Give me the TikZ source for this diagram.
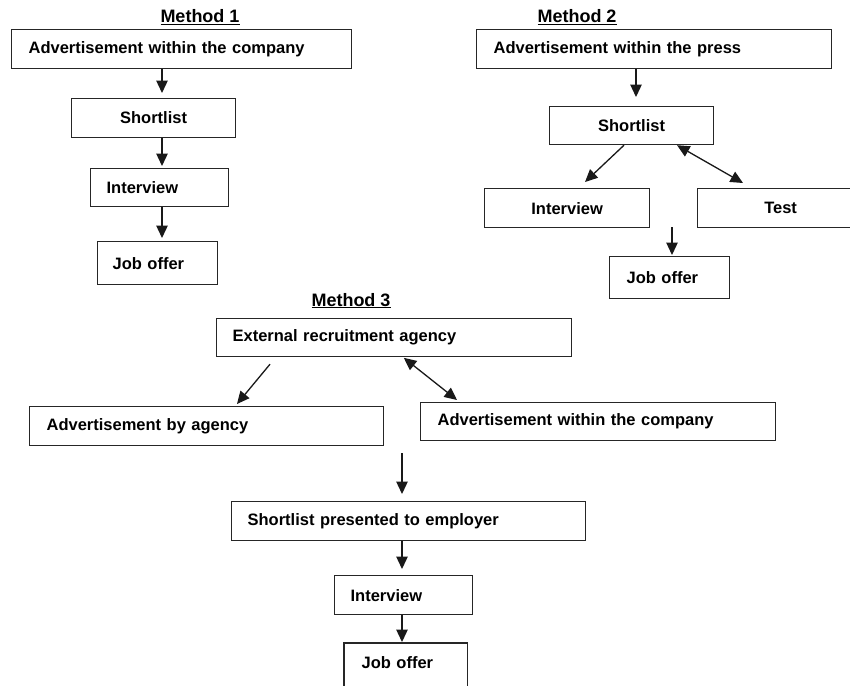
\documentclass[tikz,border=0pt]{standalone}
\usepackage{fontspec}
\setmainfont{Liberation Sans}
\usetikzlibrary{arrows.meta,calc}
\begin{document}
\begin{tikzpicture}[x=1pt,y=-1pt,
  boxbase/.style={draw=black!85,line width=1.2pt,rectangle,anchor=north west,
    inner ysep=0pt,font=\bfseries\fontsize{16.5}{19}\selectfont},
  lbox/.style n args={3}{boxbase,inner xsep=#2,text width=#1,minimum height=#3,align=left},
  cbox/.style n args={2}{boxbase,inner xsep=0pt,minimum width=#1,minimum height=#2,align=center},
  title/.style={anchor=base,inner sep=0pt,font=\bfseries\fontsize{18}{20}\selectfont},
  arr/.style={draw=black!90,line width=1.3pt,-{Triangle[length=12.5pt,width=11.5pt]}},
  darr/.style={draw=black!90,line width=1.3pt,{Triangle[length=12.5pt,width=11.5pt]}-{Triangle[length=12.5pt,width=11.5pt]}}]
\path[use as bounding box,clip] (0,0) rectangle (850,685);
\fill[white] (0,0) rectangle (850,685);

% Method 1
\node[title] (t1) at (200,23) {\underline{Method 1}};
\node[lbox={306pt}{17pt}{39pt}] (a1) at (11,29) {Advertisement within the company};
\node[cbox={164pt}{39pt}] (sl1) at (71,98) {Shortlist};
\node[lbox={106pt}{16pt}{38pt}] (iv1) at (90,168) {Interview};
\node[lbox={90pt}{15pt}{43pt}] (jo1) at (97,241) {Job offer};
\draw[arr,shorten >=5pt] (a1.south-|162,0) -- (sl1.north-|162,0);
\draw[arr,shorten >=2pt] (sl1.south-|162,0) -- (iv1.north-|162,0);
\draw[arr,shorten >=3pt] (iv1.south-|162,0) -- (jo1.north-|162,0);

% Method 2
\node[title] (t2) at (577,23) {\underline{Method 2}};
\node[lbox={321pt}{17pt}{39pt}] (a2) at (476,29) {Advertisement within the press};
\node[cbox={164pt}{38pt}] (sl2) at (549,106) {Shortlist};
\node[cbox={165pt}{39pt}] (iv2) at (484,188) {Interview};
\node[cbox={166pt}{39pt}] (te2) at (697,188) {Test};
\node[lbox={86pt}{17pt}{42pt}] (jo2) at (609,256) {Job offer};
\draw[arr,shorten >=9pt] (a2.south-|636,0) -- (sl2.north-|636,0);
\draw[arr] (sl2.south-|624,0) -- ($(iv2.north west)+(101,-6)$);
\draw[darr] (sl2.south-|677,0) -- ($(te2.north west)+(46,-5)$);
\coordinate (s2) at (672,227);
\draw[arr,shorten >=1pt] (s2) -- (jo2.north-|s2);

% Method 3
\node[title] (t3) at (351,306) {\underline{Method 3}};
\node[lbox={323pt}{16pt}{38pt}] (ex3) at (216,318) {External recruitment agency};
\node[lbox={320pt}{17pt}{39pt}] (ag3) at (29,406) {Advertisement by agency};
\node[lbox={321pt}{17pt}{38pt}] (co3) at (420,402) {Advertisement within the company};
\node[lbox={322pt}{16pt}{39pt}] (sp3) at (231,501) {Shortlist presented to employer};
\node[lbox={106pt}{16pt}{39pt}] (iv3) at (334,575) {Interview};
\node[boxbase,draw=none,inner xsep=17pt,text width=88pt,minimum height=38pt,align=left] (jo3) at (344,643) {Job offer};
\draw[draw=black!85,line width=1.2pt] (jo3.south west) ++(0,12) -- (jo3.north west) -- (jo3.north east) -- ++(0,50);
\draw[arr] ($(ex3.south west)+(54,7)$) -- ($(ag3.north west)+(208,-2)$);
\draw[darr,shorten <=1pt] (ex3.south-|403,0) -- ($(co3.north west)+(37,-2)$);
\coordinate (m3) at (402,453);
\draw[arr,shorten >=7pt] (m3) -- (sp3.north-|m3);
\draw[arr,shorten >=6pt] (sp3.south-|402,0) -- (iv3.north-|402,0);
\draw[arr,shorten >=1pt] (iv3.south-|402,0) -- (jo3.north-|402,0);
\end{tikzpicture}
\end{document}
